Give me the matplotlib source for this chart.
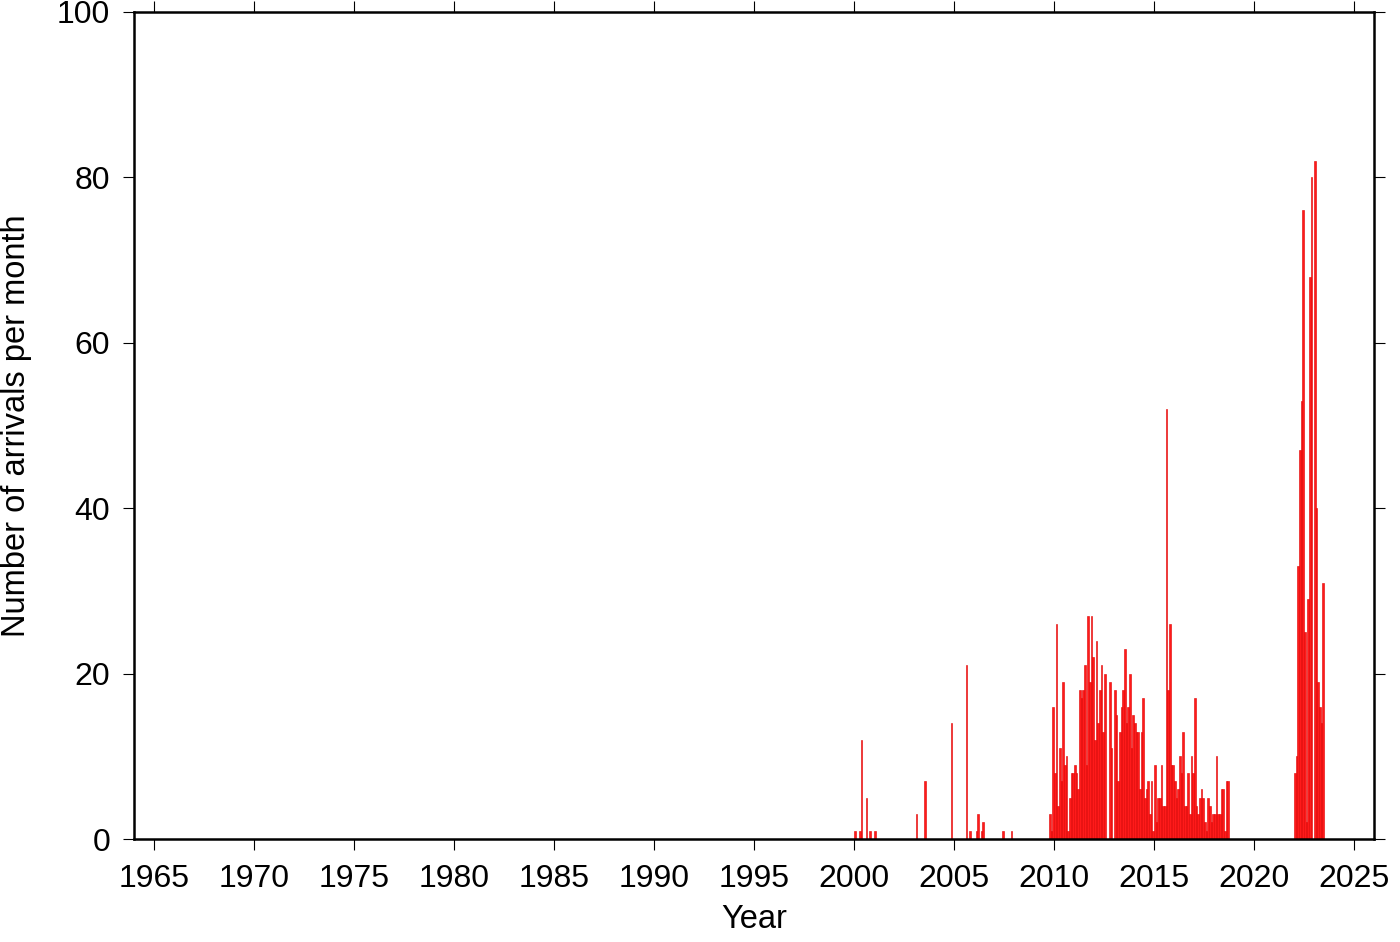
import numpy as np
import matplotlib
matplotlib.use('Agg')
import matplotlib.pyplot as plt

plt.rcParams['font.family'] = ['Liberation Sans', 'DejaVu Sans']

# Months counted from January 2000 (0 = Jan 2000)
early_months = [0, 3, 4, 7, 9, 12, 37, 42, 58, 67, 69, 73, 74, 76, 77, 89, 94]
early_counts = [1, 1, 12, 5, 1, 1, 3, 7, 14, 21, 1, 1, 3, 1, 2, 1, 1]

# Continuous monthly counts, Oct 2009 - Sep 2018
mid_start = 117
mid_counts = [3, 1, 16, 8, 26, 4, 11, 7, 19, 9,
              10, 1, 5, 8, 8, 9, 8, 6, 18, 17,
              18, 21, 9, 27, 19, 27, 22, 12, 24, 14,
              18, 21, 13, 20, 0, 0, 19, 11, 0, 18,
              15, 7, 13, 16, 18, 23, 14, 16, 20, 11,
              15, 14, 13, 13, 6, 13, 17, 5, 6, 7,
              3, 7, 1, 9, 2, 5, 5, 9, 4, 4,
              52, 18, 26, 9, 9, 7, 5, 6, 10, 8,
              13, 4, 4, 8, 3, 10, 8, 17, 4, 3,
              5, 6, 5, 2, 1, 5, 4, 2, 3, 3,
              10, 3, 3, 6, 6, 1, 7, 7]

# Continuous monthly counts, Jan 2022 - Jun 2023
late_start = 264
late_counts = [8, 10, 33, 47, 53, 76, 25, 2, 29, 68, 80, 0, 82, 40, 19, 16, 14, 31]

x_ticks = list(range(1965, 2030, 5))
y_ticks = [0, 20, 40, 60, 80, 100]

months = np.concatenate([early_months,
                         mid_start + np.arange(len(mid_counts)),
                         late_start + np.arange(len(late_counts))])
counts = np.concatenate([early_counts, mid_counts, late_counts])
years = 2000 + months / 12.0

fig = plt.figure(figsize=(14, 9.42), dpi=100)
ax = fig.add_axes([0.0957, 0.1093, 0.8857, 0.878])

ax.bar(years, counts, width=1 / 12.0, align='edge', color='#ff1a1a',
       edgecolor='#e00000', linewidth=0.4)

ax.set_xlim(1964, 2026)
ax.set_ylim(0, 100)
ax.set_xticks(x_ticks)
ax.set_yticks(y_ticks)

for s in ax.spines.values():
    s.set_linewidth(1.8)
    s.set_zorder(5)

ax.tick_params(axis='both', direction='out', length=8, width=0.8,
               labelsize=23, top=True, right=True)
ax.tick_params(axis='x', pad=10)
ax.tick_params(axis='y', pad=9)

ax.set_xlabel('Year', fontsize=23.5)
ax.set_ylabel('Number of arrivals per month', fontsize=23.5)
ax.xaxis.set_label_coords(0.5, -0.079)
ax.yaxis.set_label_coords(-0.082, 0.5)

fig.savefig('out.png', dpi=100)
